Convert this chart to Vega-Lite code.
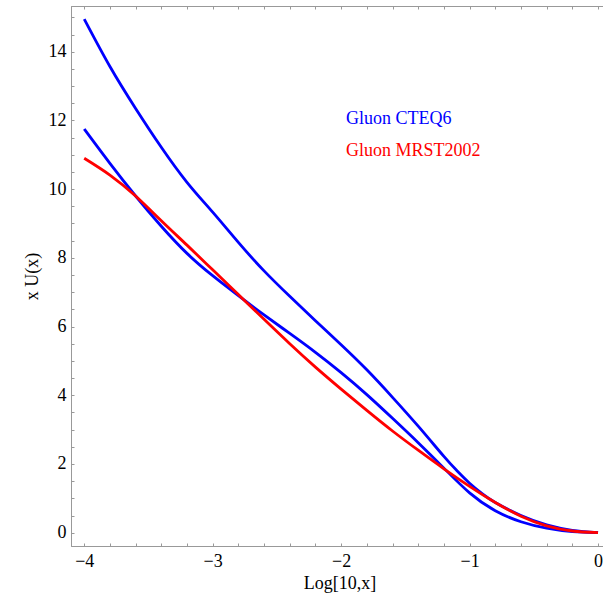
{
  "$schema": "https://vega.github.io/schema/vega-lite/v6.json",
  "width": 537,
  "height": 540,
  "autosize": "none",
  "padding": {"left": 71, "top": 6, "right": 0, "bottom": 50},
  "background": "white",
  "config": {
    "view": {"stroke": "#999999", "strokeWidth": 1},
    "font": "Liberation Serif",
    "axis": {
      "domainColor": "#999999",
      "tickColor": "#999999",
      "grid": false,
      "labelFont": "Liberation Serif",
      "labelFontSize": 18,
      "labelColor": "black",
      "titleFont": "Liberation Serif",
      "titleFontSize": 18,
      "titleFontWeight": "normal",
      "titleColor": "black"
    }
  },
  "datasets": {
    "curves": [
      {"curve": "A", "set": "CTEQ6", "logx": -4.0, "xU": 14.95},
      {"curve": "A", "set": "CTEQ6", "logx": -3.8, "xU": 13.57},
      {"curve": "A", "set": "CTEQ6", "logx": -3.6, "xU": 12.35},
      {"curve": "A", "set": "CTEQ6", "logx": -3.4, "xU": 11.22},
      {"curve": "A", "set": "CTEQ6", "logx": -3.2, "xU": 10.2},
      {"curve": "A", "set": "CTEQ6", "logx": -3.0, "xU": 9.33},
      {"curve": "A", "set": "CTEQ6", "logx": -2.8, "xU": 8.45},
      {"curve": "A", "set": "CTEQ6", "logx": -2.6, "xU": 7.62},
      {"curve": "A", "set": "CTEQ6", "logx": -2.4, "xU": 6.88},
      {"curve": "A", "set": "CTEQ6", "logx": -2.2, "xU": 6.17},
      {"curve": "A", "set": "CTEQ6", "logx": -2.0, "xU": 5.47},
      {"curve": "A", "set": "CTEQ6", "logx": -1.8, "xU": 4.74},
      {"curve": "A", "set": "CTEQ6", "logx": -1.6, "xU": 3.94},
      {"curve": "A", "set": "CTEQ6", "logx": -1.4, "xU": 3.1},
      {"curve": "A", "set": "CTEQ6", "logx": -1.2, "xU": 2.22},
      {"curve": "A", "set": "CTEQ6", "logx": -1.1, "xU": 1.81},
      {"curve": "A", "set": "CTEQ6", "logx": -1.0, "xU": 1.44},
      {"curve": "A", "set": "CTEQ6", "logx": -0.9, "xU": 1.13},
      {"curve": "A", "set": "CTEQ6", "logx": -0.8, "xU": 0.88},
      {"curve": "A", "set": "CTEQ6", "logx": -0.6, "xU": 0.5},
      {"curve": "A", "set": "CTEQ6", "logx": -0.4, "xU": 0.23},
      {"curve": "A", "set": "CTEQ6", "logx": -0.2, "xU": 0.07},
      {"curve": "A", "set": "CTEQ6", "logx": 0.0, "xU": 0.0},
      {"curve": "B", "set": "CTEQ6", "logx": -4.0, "xU": 11.75},
      {"curve": "B", "set": "CTEQ6", "logx": -3.8, "xU": 10.75},
      {"curve": "B", "set": "CTEQ6", "logx": -3.6, "xU": 9.8},
      {"curve": "B", "set": "CTEQ6", "logx": -3.4, "xU": 8.92},
      {"curve": "B", "set": "CTEQ6", "logx": -3.2, "xU": 8.13},
      {"curve": "B", "set": "CTEQ6", "logx": -3.0, "xU": 7.48},
      {"curve": "B", "set": "CTEQ6", "logx": -2.8, "xU": 6.9},
      {"curve": "B", "set": "CTEQ6", "logx": -2.6, "xU": 6.34},
      {"curve": "B", "set": "CTEQ6", "logx": -2.4, "xU": 5.8},
      {"curve": "B", "set": "CTEQ6", "logx": -2.2, "xU": 5.25},
      {"curve": "B", "set": "CTEQ6", "logx": -2.0, "xU": 4.66},
      {"curve": "B", "set": "CTEQ6", "logx": -1.8, "xU": 4.02},
      {"curve": "B", "set": "CTEQ6", "logx": -1.6, "xU": 3.33},
      {"curve": "B", "set": "CTEQ6", "logx": -1.4, "xU": 2.62},
      {"curve": "B", "set": "CTEQ6", "logx": -1.2, "xU": 1.88},
      {"curve": "B", "set": "CTEQ6", "logx": -1.0, "xU": 1.16},
      {"curve": "B", "set": "CTEQ6", "logx": -0.8, "xU": 0.64},
      {"curve": "B", "set": "CTEQ6", "logx": -0.6, "xU": 0.32},
      {"curve": "B", "set": "CTEQ6", "logx": -0.4, "xU": 0.13},
      {"curve": "B", "set": "CTEQ6", "logx": -0.2, "xU": 0.03},
      {"curve": "B", "set": "CTEQ6", "logx": 0.0, "xU": 0.0},
      {"curve": "C", "set": "MRST2002", "logx": -4.0, "xU": 10.9},
      {"curve": "C", "set": "MRST2002", "logx": -3.8, "xU": 10.41},
      {"curve": "C", "set": "MRST2002", "logx": -3.6, "xU": 9.8},
      {"curve": "C", "set": "MRST2002", "logx": -3.4, "xU": 9.08},
      {"curve": "C", "set": "MRST2002", "logx": -3.2, "xU": 8.37},
      {"curve": "C", "set": "MRST2002", "logx": -3.0, "xU": 7.65},
      {"curve": "C", "set": "MRST2002", "logx": -2.8, "xU": 6.93},
      {"curve": "C", "set": "MRST2002", "logx": -2.6, "xU": 6.21},
      {"curve": "C", "set": "MRST2002", "logx": -2.4, "xU": 5.5},
      {"curve": "C", "set": "MRST2002", "logx": -2.2, "xU": 4.82},
      {"curve": "C", "set": "MRST2002", "logx": -2.0, "xU": 4.18},
      {"curve": "C", "set": "MRST2002", "logx": -1.8, "xU": 3.56},
      {"curve": "C", "set": "MRST2002", "logx": -1.6, "xU": 2.96},
      {"curve": "C", "set": "MRST2002", "logx": -1.4, "xU": 2.4},
      {"curve": "C", "set": "MRST2002", "logx": -1.2, "xU": 1.86},
      {"curve": "C", "set": "MRST2002", "logx": -1.0, "xU": 1.35},
      {"curve": "C", "set": "MRST2002", "logx": -0.8, "xU": 0.88},
      {"curve": "C", "set": "MRST2002", "logx": -0.6, "xU": 0.48},
      {"curve": "C", "set": "MRST2002", "logx": -0.4, "xU": 0.2},
      {"curve": "C", "set": "MRST2002", "logx": -0.2, "xU": 0.05},
      {"curve": "C", "set": "MRST2002", "logx": 0.0, "xU": 0.0}
    ],
    "labels": [
      {"set": "CTEQ6", "label": "Gluon CTEQ6", "logx": -1.962, "xU": 11.9},
      {"set": "MRST2002", "label": "Gluon MRST2002", "logx": -1.962, "xU": 10.95}
    ]
  },
  "resolve": {"axis": {"x": "independent", "y": "independent"}},
  "layer": [
    {
      "data": {"name": "curves"},
      "mark": {"type": "line", "strokeWidth": 2.8, "interpolate": "natural", "clip": true},
      "encoding": {
        "x": {
          "field": "logx", "type": "quantitative",
          "scale": {"domain": [-4.103, 0.0776], "nice": false, "zero": false},
          "axis": {
            "orient": "bottom",
            "title": "Log[10,x]",
            "titlePadding": 4,
            "values": [-4, -3.8, -3.6, -3.4, -3.2, -3, -2.8, -2.6, -2.4, -2.2, -2, -1.8, -1.6, -1.4, -1.2, -1, -0.8, -0.6, -0.4, -0.2, 0],
            "labelExpr": "abs(datum.value - round(datum.value)) < 0.000001 ? format(datum.value, 'd') : ''",
            "tickSize": -3,
            "labelPadding": 9,
            "labelFlush": false,
            "labelOverlap": false
          }
        },
        "y": {
          "field": "xU", "type": "quantitative",
          "scale": {"domain": [-0.387, 15.33], "nice": false, "zero": false},
          "axis": {
            "orient": "left",
            "title": "x U(x)",
            "titlePadding": 7,
            "values": [0, 0.5, 1, 1.5, 2, 2.5, 3, 3.5, 4, 4.5, 5, 5.5, 6, 6.5, 7, 7.5, 8, 8.5, 9, 9.5, 10, 10.5, 11, 11.5, 12, 12.5, 13, 13.5, 14, 14.5, 15],
            "labelExpr": "datum.value % 2 === 0 ? format(datum.value, 'd') : ''",
            "tickSize": -3,
            "labelPadding": 8,
            "labelFlush": false,
            "labelOverlap": false
          }
        },
        "color": {
          "field": "set", "type": "nominal",
          "scale": {"domain": ["CTEQ6", "MRST2002"], "range": ["#0000ff", "#ff0000"]},
          "legend": null
        },
        "detail": {"field": "curve", "type": "nominal"}
      }
    },
    {
      "data": {"name": "curves"},
      "mark": {"type": "line", "opacity": 0},
      "encoding": {
        "x": {
          "field": "logx", "type": "quantitative",
          "axis": {
            "orient": "top",
            "title": null,
            "labels": false,
            "domain": true,
            "ticks": true,
            "values": [-4, -3.8, -3.6, -3.4, -3.2, -3, -2.8, -2.6, -2.4, -2.2, -2, -1.8, -1.6, -1.4, -1.2, -1, -0.8, -0.6, -0.4, -0.2, 0],
            "tickSize": -3
          }
        },
        "y": {"field": "xU", "type": "quantitative", "axis": null},
        "detail": {"field": "curve", "type": "nominal"}
      }
    },
    {
      "data": {"name": "labels"},
      "mark": {"type": "text", "align": "left", "baseline": "alphabetic", "fontSize": 18, "font": "Liberation Serif"},
      "encoding": {
        "x": {"field": "logx", "type": "quantitative", "axis": null},
        "y": {"field": "xU", "type": "quantitative", "axis": null},
        "text": {"field": "label"},
        "color": {"field": "set", "type": "nominal", "legend": null}
      }
    }
  ]
}
